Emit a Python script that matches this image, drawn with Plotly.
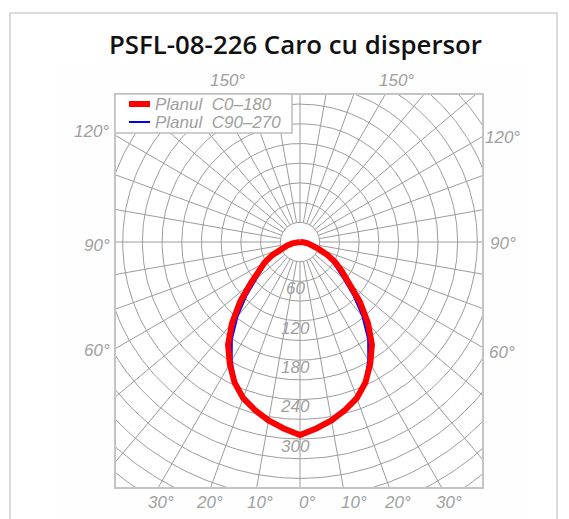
import numpy as np
import plotly.graph_objects as go

# ---------------- data ----------------
title_text = "PSFL-08-226 Caro cu dispersor"
gamma_deg = [0, 5, 10, 15, 20, 25, 30, 35, 40, 45, 50, 55, 60, 65, 70, 75, 80, 85, 90]
c0_180 = [294, 285, 276, 265, 253, 236, 214, 191, 161, 129, 98, 78, 62, 46, 30, 20, 12, 5, 0]
c90_270 = [294, 285, 276, 265, 253, 234, 208, 181, 148, 115, 86, 69, 56, 43, 28, 19, 11, 5, 0]
series_names = ["Planul\u00a0 C0\u2013180", "Planul\u00a0 C90\u2013270"]
radial_labels = [60, 120, 180, 240, 300]
side_angle_labels = ["150°", "120°", "90°", "60°"]
bottom_angle_labels = ["30°", "20°", "10°", "0°", "10°", "20°", "30°"]

# ---------------- geometry of the picture (window pixels) ----------------
OFF = 8                      # default page body margin
W, H = 569 - OFF, 519 - OFF  # figure size
CX, CY = 300, 242            # window-pixel centre of diagram
L, R, T, B = 115, 483, 94, 488  # plot box in window pixels
K = 19.7 / 30.0              # pixels per cd
GRID_STEP = 30

def dx(px):
    return (px - CX) / K

def dy(py):
    return (CY - py) / K

def pxp(px):
    return (px - L) / (R - L)

def pyp(py):
    return (B - py) / (B - T)

GRID = "#9c9c9c"
TXT = "#a0a0a0"
LBL_FONT = dict(family="Liberation Sans", size=17, color=TXT)

fig = go.Figure()

# grid circles
th = np.linspace(0, 2 * np.pi, 361)
gx, gy = [], []
for r in range(GRID_STEP, 601, GRID_STEP):
    gx += list(r * np.cos(th)) + [None]
    gy += list(r * np.sin(th)) + [None]
fig.add_trace(go.Scatter(x=gx, y=gy, mode="lines", line=dict(color=GRID, width=1),
                         hoverinfo="skip", showlegend=False))
# grid rays
rx, ry = [], []
for a in range(0, 360, 10):
    t = np.radians(a)
    rx += [GRID_STEP * np.cos(t), 800 * np.cos(t), None]
    ry += [GRID_STEP * np.sin(t), 800 * np.sin(t), None]
fig.add_trace(go.Scatter(x=rx, y=ry, mode="lines", line=dict(color=GRID, width=1),
                         hoverinfo="skip", showlegend=False))

def curve(vals):
    g = np.radians(np.array([-a for a in gamma_deg[::-1]] + gamma_deg[1:], dtype=float))
    v = np.array(vals[::-1] + vals[1:], dtype=float)
    return v * np.sin(g), -v * np.cos(g)

bx, by = curve(c90_270)
fig.add_trace(go.Scatter(x=bx, y=by, mode="lines", name=series_names[1],
                         line=dict(color="#0000ff", width=2), showlegend=False))
rxx, ryy = curve(c0_180)
fig.add_trace(go.Scatter(x=rxx, y=ryy, mode="lines", name=series_names[0],
                         line=dict(color="#ff0000", width=6), showlegend=False))

shapes = []
# card border and faint image background
shapes.append(dict(type="rect", xref="paper", yref="paper", layer="below",
                   x0=pxp(10), x1=pxp(557), y0=pyp(540), y1=pyp(13),
                   line=dict(color="#cfcfcf", width=1.5), fillcolor="white"))
shapes.append(dict(type="rect", xref="paper", yref="paper", layer="below",
                   x0=pxp(60), x1=pxp(528), y0=pyp(540), y1=pyp(64),
                   line=dict(width=0), fillcolor="#fefefe"))
shapes.append(dict(type="rect", xref="paper", yref="paper", layer="below",
                   x0=0, x1=1, y0=0, y1=1, line=dict(width=0), fillcolor="white"))
# plot box
shapes.append(dict(type="rect", xref="paper", yref="paper", layer="above",
                   x0=0, x1=1, y0=0, y1=1, line=dict(color="#c4c4c4", width=2)))
# legend box
shapes.append(dict(type="rect", xref="x", yref="y", layer="above",
                   x0=dx(L), x1=dx(292), y0=dy(133), y1=dy(T),
                   line=dict(color="#bdbdbd", width=1.5), fillcolor="white"))
shapes.append(dict(type="line", xref="x", yref="y", layer="above",
                   x0=dx(129), x1=dx(150), y0=dy(104), y1=dy(104),
                   line=dict(color="#ff0000", width=6)))
shapes.append(dict(type="line", xref="x", yref="y", layer="above",
                   x0=dx(129), x1=dx(150), y0=dy(122), y1=dy(122),
                   line=dict(color="#0000ff", width=2)))

ann = []
ann.append(dict(text=title_text, x=pxp(295), y=pyp(44), xref="paper", yref="paper",
                showarrow=False, xanchor="center", yanchor="middle",
                font=dict(family="Open Sans", size=25.8, color="#111111", weight=600)))
for name, yy in zip(series_names, [104, 122]):
    ann.append(dict(text="<i>" + name + "</i>", x=dx(153), y=dy(yy), xref="x", yref="y",
                    showarrow=False, xanchor="left", yanchor="middle", font=LBL_FONT))
for v in radial_labels:
    ann.append(dict(text="<i>%d</i>" % v, x=dx(295), y=-(v + 11), xref="x", yref="y",
                    showarrow=False, xanchor="center", yanchor="middle", font=LBL_FONT))
# side angle labels (left, right)
left_pos = [(227, 80), (91, 132), (97, 245), (97, 350)]
right_pos = [(396, 80), (502, 137), (503, 243), (502, 352)]
for lab, (lx, ly), (rx_, ry_) in zip(side_angle_labels, left_pos, right_pos):
    for px_, py_ in [(lx, ly), (rx_, ry_)]:
        ann.append(dict(text="<i>" + lab + "</i>", x=pxp(px_), y=pyp(py_), xref="paper", yref="paper",
                        showarrow=False, xanchor="center", yanchor="middle", font=LBL_FONT))
bottom_x = [161, 209, 260, 307, 354, 397, 449]
for lab, bxp in zip(bottom_angle_labels, bottom_x):
    ann.append(dict(text="<i>" + lab + "</i>", x=pxp(bxp), y=pyp(502), xref="paper", yref="paper",
                    showarrow=False, xanchor="center", yanchor="middle", font=LBL_FONT))

fig.update_layout(
    width=W, height=H,
    margin=dict(l=L - OFF, r=(569 - OFF) - (R - OFF), t=T - OFF, b=(519 - OFF) - (B - OFF), pad=0),
    paper_bgcolor="white", plot_bgcolor="rgba(0,0,0,0)",
    xaxis=dict(range=[dx(L), dx(R)], visible=False, fixedrange=True),
    yaxis=dict(range=[dy(B), dy(T)], visible=False, fixedrange=True),
    shapes=shapes, annotations=ann, showlegend=False,
)
fig.write_html("out.html")
